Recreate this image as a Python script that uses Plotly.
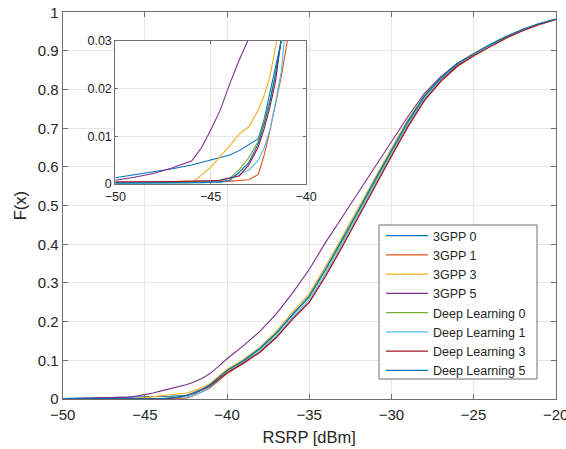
import plotly.graph_objects as go

# RSRP grid (dBm)
x_dbm = [-50, -49, -48, -47, -46, -45.5, -45, -44.5, -44, -43.5, -43, -42.5, -42.2, -41.9,
         -41.6, -41.3, -41, -40.5, -40, -39, -38, -37, -36, -35, -34, -33, -32, -31, -30,
         -29, -28, -27, -26, -25, -24, -23, -22, -21, -20]

series_names = ["3GPP 0", "3GPP 1", "3GPP 3", "3GPP 5",
                "Deep Learning 0", "Deep Learning 1", "Deep Learning 3", "Deep Learning 5"]
series_colors = ["#0072BD", "#D95319", "#EDB120", "#7E2F8E",
                 "#77AC30", "#4DBEEE", "#A2142F", "#0072BD"]

cdf_3gpp0 = [0.0013, 0.0019, 0.0025, 0.0032, 0.0040, 0.0045, 0.0050, 0.0055, 0.0061, 0.0070,
             0.0082, 0.0095, 0.0135, 0.0190, 0.0245, 0.0300, 0.0380, 0.0560, 0.0740, 0.0990,
             0.1300, 0.1700, 0.2200, 0.2650, 0.3350, 0.4100, 0.4880, 0.5650, 0.6400, 0.7150,
             0.7800, 0.8280, 0.8650, 0.8920, 0.9160, 0.9370, 0.9550, 0.9700, 0.9820]
cdf_3gpp1 = [0.0004, 0.0004, 0.0004, 0.0005, 0.0005, 0.0005, 0.0005, 0.0005, 0.0006, 0.0007,
             0.0009, 0.0020, 0.0060, 0.0110, 0.0165, 0.0225, 0.0295, 0.0470, 0.0660, 0.0920,
             0.1210, 0.1590, 0.2070, 0.2500, 0.3180, 0.3930, 0.4720, 0.5500, 0.6270, 0.7030,
             0.7700, 0.8200, 0.8590, 0.8860, 0.9110, 0.9330, 0.9520, 0.9680, 0.9810]
cdf_3gpp3 = [0.0001, 0.0001, 0.0001, 0.0001, 0.0002, 0.0018, 0.0035, 0.0058, 0.0080, 0.0105,
             0.0120, 0.0155, 0.0185, 0.0225, 0.0285, 0.0340, 0.0410, 0.0590, 0.0770, 0.1020,
             0.1340, 0.1750, 0.2260, 0.2720, 0.3430, 0.4190, 0.4960, 0.5730, 0.6480, 0.7220,
             0.7850, 0.8320, 0.8680, 0.8940, 0.9170, 0.9380, 0.9560, 0.9710, 0.9825]
cdf_3gpp5 = [0.0008, 0.0014, 0.0022, 0.0034, 0.0048, 0.0075, 0.0113, 0.0155, 0.0210, 0.0260,
             0.0305, 0.0370, 0.0410, 0.0460, 0.0520, 0.0590, 0.0670, 0.0850, 0.1040, 0.1380,
             0.1750, 0.2200, 0.2750, 0.3350, 0.4050, 0.4700, 0.5350, 0.6000, 0.6650, 0.7300,
             0.7900, 0.8330, 0.8680, 0.8930, 0.9160, 0.9370, 0.9550, 0.9700, 0.9820]
cdf_dl0 = [0.0002, 0.0002, 0.0003, 0.0003, 0.0004, 0.0004, 0.0005, 0.0007, 0.0012, 0.0030,
           0.0055, 0.0090, 0.0130, 0.0175, 0.0230, 0.0290, 0.0370, 0.0550, 0.0730, 0.0980,
           0.1290, 0.1690, 0.2180, 0.2630, 0.3330, 0.4070, 0.4850, 0.5620, 0.6380, 0.7130,
           0.7790, 0.8270, 0.8640, 0.8910, 0.9150, 0.9360, 0.9540, 0.9695, 0.9820]
cdf_dl1 = [0.0001, 0.0001, 0.0001, 0.0001, 0.0002, 0.0002, 0.0004, 0.0008, 0.0013, 0.0021,
           0.0029, 0.0050, 0.0075, 0.0113, 0.0170, 0.0235, 0.0320, 0.0500, 0.0690, 0.0950,
           0.1250, 0.1640, 0.2120, 0.2560, 0.3250, 0.4000, 0.4780, 0.5560, 0.6330, 0.7090,
           0.7760, 0.8250, 0.8630, 0.8900, 0.9140, 0.9350, 0.9540, 0.9695, 0.9820]
cdf_dl3 = [0.0004, 0.0004, 0.0005, 0.0005, 0.0006, 0.0006, 0.0007, 0.0008, 0.0012, 0.0017,
           0.0040, 0.0078, 0.0115, 0.0160, 0.0215, 0.0280, 0.0350, 0.0510, 0.0680, 0.0930,
           0.1210, 0.1590, 0.2070, 0.2500, 0.3180, 0.3930, 0.4720, 0.5500, 0.6280, 0.7040,
           0.7720, 0.8220, 0.8610, 0.8880, 0.9120, 0.9340, 0.9530, 0.9690, 0.9815]
cdf_dl5 = [0.0002, 0.0002, 0.0002, 0.0003, 0.0003, 0.0003, 0.0004, 0.0004, 0.0008, 0.0025,
           0.0045, 0.0085, 0.0125, 0.0170, 0.0230, 0.0295, 0.0375, 0.0560, 0.0740, 0.0990,
           0.1310, 0.1710, 0.2200, 0.2660, 0.3360, 0.4110, 0.4890, 0.5670, 0.6430, 0.7180,
           0.7830, 0.8300, 0.8670, 0.8930, 0.9170, 0.9380, 0.9560, 0.9710, 0.9825]

all_cdfs = [cdf_3gpp0, cdf_3gpp1, cdf_3gpp3, cdf_3gpp5, cdf_dl0, cdf_dl1, cdf_dl3, cdf_dl5]

main_xticks = [-50, -45, -40, -35, -30, -25, -20]
main_yticks = [0, 0.1, 0.2, 0.3, 0.4, 0.5, 0.6, 0.7, 0.8, 0.9, 1]
main_yticklabels = ["0", "0.1", "0.2", "0.3", "0.4", "0.5", "0.6", "0.7", "0.8", "0.9", "1"]
inset_xticks = [-50, -45, -40]
inset_yticks = [0, 0.01, 0.02, 0.03]
inset_yticklabels = ["0", "0.01", "0.02", "0.03"]

FONT = "Liberation Sans, Arial, sans-serif"
TXT = "#262626"
LINE = "#6f6f6f"
GRID = "#e6e6e6"

fig = go.Figure()
for name, col, y in zip(series_names, series_colors, all_cdfs):
    fig.add_trace(go.Scatter(x=x_dbm, y=y, mode="lines", name=name,
                             line=dict(color=col, width=1.1), xaxis="x", yaxis="y"))
for name, col, y in zip(series_names, series_colors, all_cdfs):
    fig.add_trace(go.Scatter(x=x_dbm, y=y, mode="lines", name=name, showlegend=False,
                             line=dict(color=col, width=1.1), xaxis="x2", yaxis="y2"))

W, H = 566, 449
def px_x(a, b):
    return [a / W, b / W]
def px_y(top, bottom):
    return [1 - bottom / H, 1 - top / H]

axis_common = dict(showgrid=True, gridcolor=GRID, gridwidth=1, zeroline=False,
                   showline=True, linecolor=LINE, linewidth=1, mirror="ticks",
                   ticks="inside", tickcolor=LINE, ticklen=5, ticklabeloverflow="allow",
                   tickfont=dict(family=FONT, size=15, color=TXT))
inset_common = {**axis_common, "tickfont": dict(family=FONT, size=12.5, color=TXT), "ticklen": 3}

# legend box (opaque white frame behind the legend entries)
fig.add_shape(type="rect", xref="paper", yref="paper",
              x0=379 / W, x1=537 / W, y0=1 - 379 / H, y1=1 - 225 / H,
              fillcolor="white", line=dict(color=LINE, width=1), layer="above")

fig.update_layout(
    width=W, height=H,
    margin=dict(l=0, r=0, t=0, b=0),
    paper_bgcolor="white", plot_bgcolor="white",
    font=dict(family=FONT, color=TXT),
    hovermode=False,
    xaxis=dict(domain=px_x(62.7, 555.7), range=[-50, -20], tickvals=main_xticks,
               anchor="y", automargin=False, ticklabelstandoff=2,
               title=dict(text="RSRP [dBm]", font=dict(family=FONT, size=16.5, color=TXT), standoff=9),
               **axis_common),
    yaxis=dict(domain=px_y(12.3, 399), range=[0, 1], tickvals=main_yticks,
               ticktext=main_yticklabels, anchor="x", automargin=False,
               title=dict(text="F(x)", font=dict(family=FONT, size=16.5, color=TXT), standoff=7),
               **axis_common),
    xaxis2=dict(domain=px_x(115.3, 306), range=[-50, -40], tickvals=inset_xticks,
                anchor="y2", automargin=False, ticklabelstandoff=1, **inset_common),
    yaxis2=dict(domain=px_y(41, 184), range=[0, 0.03], tickvals=inset_yticks,
                ticktext=inset_yticklabels, anchor="x2", automargin=False, **inset_common),
    legend=dict(x=381 / W, y=1 - 221 / H, xanchor="left", yanchor="top",
                bgcolor="rgba(0,0,0,0)", borderwidth=0,
                font=dict(family=FONT, size=12.5, color=TXT), tracegroupgap=0,
                itemwidth=42),
    showlegend=True,
)

fig.write_html("out.html", config={"displayModeBar": False},
               post_script="document.body.style.margin='0';")
